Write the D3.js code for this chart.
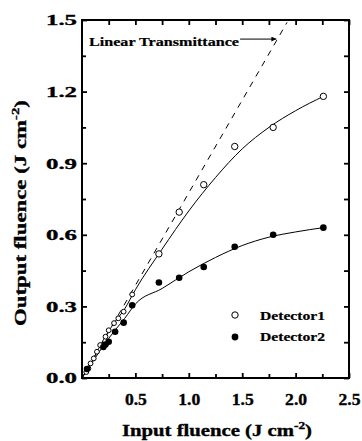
<!DOCTYPE html>
<html><head><meta charset="utf-8">
<script src="https://cdn.jsdelivr.net/npm/d3@7/dist/d3.min.js"></script>
<style>body{margin:0;background:#fff}svg{display:block}text{font-family:"Liberation Serif","Times New Roman",serif;font-weight:bold;fill:#000;stroke:#000;stroke-width:0.35px}</style>
</head><body>
<svg id="c" width="362" height="441"></svg>
<script>
// Data
const det1X = [0.04,0.06,0.08,0.11,0.14,0.17,0.22,0.25,0.30,0.34,0.39,0.47,0.72,0.91,1.14,1.43,1.79,2.26];
const det1Y = [0.025,0.04,0.061,0.082,0.11,0.138,0.173,0.20,0.23,0.25,0.278,0.35,0.52,0.695,0.81,0.97,1.05,1.18];
const det2X = [0.047,0.20,0.22,0.25,0.31,0.39,0.47,0.72,0.91,1.14,1.43,1.79,2.26];
const det2Y = [0.038,0.13,0.14,0.152,0.194,0.232,0.305,0.40,0.42,0.465,0.55,0.60,0.63];
const fitX  = [0,0.1,0.2,0.3,0.4,0.5,0.75,1.0,1.25,1.5,1.75,2.0,2.26];
const fit1Y = [0,0.075,0.16,0.23,0.29,0.37,0.54,0.70,0.84,0.96,1.05,1.12,1.18];
const fit2Y = [0,0.068,0.135,0.195,0.25,0.31,0.375,0.445,0.505,0.555,0.59,0.612,0.63];
const linearX = [0, 1.92];
const linearY = [0, 1.49];
const xTicks = [0.5,1.0,1.5,2.0,2.5];
const xMinor = [0.25,0.75,1.25,1.75,2.25];
const yTicks = [0.0,0.3,0.6,0.9,1.2,1.5];
const yMinor = [0.15,0.45,0.75,1.05,1.35];
const seriesNames = ["Detector1","Detector2"];
const annText = "Linear Transmittance";
const annArrowX = [1.48, 1.82];
const annArrowY = 1.42;

const svg = d3.select("#c");
const L=82,R=349,T=20,B=378;
const x = d3.scaleLinear().domain([0,2.5]).range([L,R]);
const y = d3.scaleLinear().domain([0,1.5]).range([B,T]);

// dashed linear line
svg.append("line").attr("x1",x(linearX[0])).attr("y1",y(linearY[0])).attr("x2",x(linearX[1])).attr("y2",y(linearY[1]))
  .attr("stroke","#000").attr("stroke-width",1).attr("stroke-dasharray","6,6");

const line = d3.line().x(d=>x(d[0])).y(d=>y(d[1])).curve(d3.curveMonotoneX);
svg.append("path").attr("d",line(fitX.map((v,i)=>[v,fit1Y[i]]))).attr("fill","none").attr("stroke","#000").attr("stroke-width",1);
svg.append("path").attr("d",line(fitX.map((v,i)=>[v,fit2Y[i]]))).attr("fill","none").attr("stroke","#000").attr("stroke-width",1);

// points
svg.selectAll(".p1").data(det1X.map((v,i)=>[v,det1Y[i]])).enter().append("circle")
  .attr("cx",d=>x(d[0])).attr("cy",d=>y(d[1])).attr("r",d=>d[0]<0.5?2.4:3.2).attr("fill","#fff").attr("stroke","#000").attr("stroke-width",1);
svg.selectAll(".p2").data(det2X.map((v,i)=>[v,det2Y[i]])).enter().append("circle")
  .attr("cx",d=>x(d[0])).attr("cy",d=>y(d[1])).attr("r",3.3).attr("fill","#000");

// axes
const gB = svg.append("g").attr("transform",`translate(0,${B})`).call(d3.axisBottom(x).tickValues(xTicks).tickSize(-5).tickFormat(d3.format(".1f")));
const gBm = svg.append("g").attr("transform",`translate(0,${B})`).call(d3.axisBottom(x).tickValues(xMinor).tickSize(-4).tickFormat(""));
const gT = svg.append("g").attr("transform",`translate(0,${T})`).call(d3.axisTop(x).tickValues(xTicks.concat(xMinor)).tickSize(-5).tickFormat(""));
const gL = svg.append("g").attr("transform",`translate(${L},0)`).call(d3.axisLeft(y).tickValues(yTicks).tickSize(-5).tickFormat(d3.format(".1f")));
const gLm = svg.append("g").attr("transform",`translate(${L},0)`).call(d3.axisLeft(y).tickValues(yMinor).tickSize(-4).tickFormat(""));
const gR = svg.append("g").attr("transform",`translate(${R},0)`).call(d3.axisRight(y).tickValues(yTicks.concat(yMinor)).tickSize(-5).tickFormat(""));
[gB,gBm,gT,gL,gLm,gR].forEach(g=>{g.select(".domain").remove();g.selectAll(".tick line").attr("stroke","#000").attr("stroke-width",1.8);});
gB.selectAll(".tick text").attr("font-size",17).attr("y",15).attr("dy","0.71em").attr("textLength",22).attr("lengthAdjust","spacingAndGlyphs")
  .style("font-family","Liberation Serif").style("font-weight","bold");
gL.selectAll(".tick text").attr("font-size",15.5).attr("x",-5).attr("textLength",31).attr("lengthAdjust","spacingAndGlyphs")
  .style("font-family","Liberation Serif").style("font-weight","bold");
// frame
svg.append("rect").attr("x",L).attr("y",T).attr("width",R-L).attr("height",B-T).attr("fill","none").attr("stroke","#000").attr("stroke-width",2);

// annotation
svg.append("text").attr("x",89).attr("y",46).attr("font-size",12.5).attr("textLength",150).attr("lengthAdjust","spacingAndGlyphs").style("stroke-width","0.2px").text(annText);
svg.append("defs").append("marker").attr("id","ah").attr("viewBox","0 0 10 10").attr("refX",10).attr("refY",5)
  .attr("markerWidth",6).attr("markerHeight",5).attr("orient","auto").append("path").attr("d","M0,0L10,5L0,10z").attr("fill","#000");
svg.append("line").attr("x1",x(annArrowX[0])).attr("x2",x(annArrowX[1])).attr("y1",y(annArrowY)).attr("y2",y(annArrowY))
  .attr("stroke","#000").attr("stroke-width",1).attr("marker-end","url(#ah)");

// legend
const lg = svg.append("g");
lg.append("circle").attr("cx",235).attr("cy",315).attr("r",3.2).attr("fill","#fff").attr("stroke","#000");
lg.append("circle").attr("cx",235).attr("cy",337).attr("r",3.4).attr("fill","#000");
lg.append("text").attr("x",260).attr("y",320).attr("font-size",12.5).attr("textLength",65).attr("lengthAdjust","spacingAndGlyphs").style("stroke-width","0.2px").text(seriesNames[0]);
lg.append("text").attr("x",260).attr("y",341).attr("font-size",12.5).attr("textLength",65).attr("lengthAdjust","spacingAndGlyphs").style("stroke-width","0.2px").text(seriesNames[1]);

// axis titles
const xt = svg.append("text").attr("x",217).attr("y",436).attr("text-anchor","middle").attr("font-size",17).attr("textLength",190).attr("lengthAdjust","spacingAndGlyphs");
xt.append("tspan").text("Input fluence (J cm");
xt.append("tspan").attr("dy",-7).attr("font-size",11).text("-2");
xt.append("tspan").attr("dy",7).text(")");
const yt = svg.append("text").attr("transform","translate(26,213) rotate(-90)").attr("text-anchor","middle").attr("font-size",17).attr("textLength",226).attr("lengthAdjust","spacingAndGlyphs");
yt.append("tspan").text("Output fluence (J cm");
yt.append("tspan").attr("dy",-7).attr("font-size",11).text("-2");
yt.append("tspan").attr("dy",7).text(")");
</script>
</body></html>
